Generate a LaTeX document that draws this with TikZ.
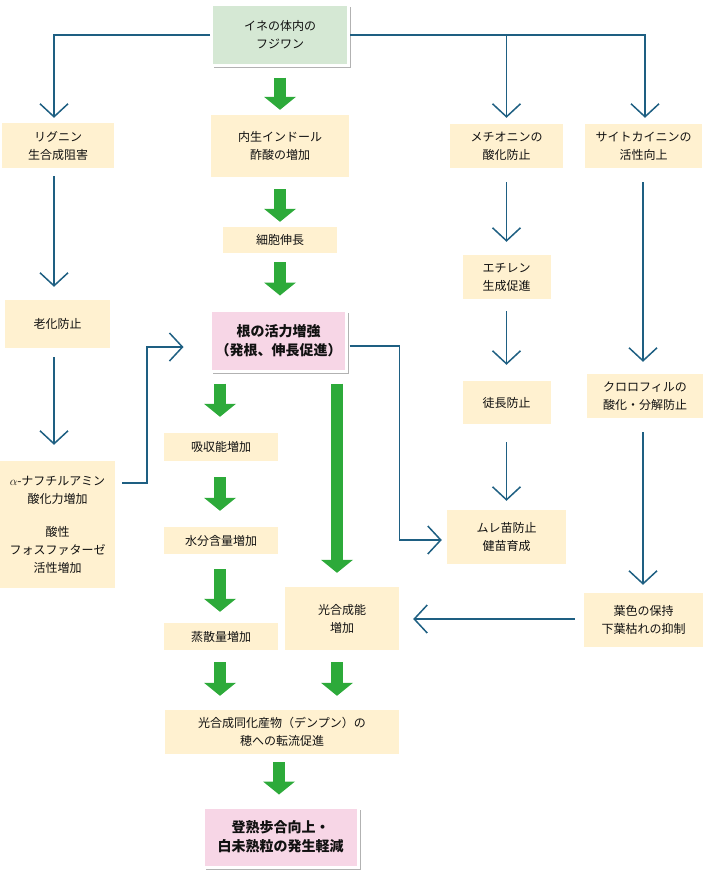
\documentclass[tikz,border=0pt]{standalone}
\usepackage{fontspec}
\setmainfont{Noto Sans CJK JP}
\usetikzlibrary{arrows.meta,shadows,calc}
\definecolor{cream}{HTML}{FFF1D0}
\definecolor{mint}{HTML}{D5E8D4}
\definecolor{rose}{HTML}{F7D6E6}
\definecolor{navy}{HTML}{1E5F82}
\definecolor{leafg}{HTML}{2DAA3A}
\definecolor{ink}{HTML}{111111}
\begin{document}
\begin{tikzpicture}[x=1pt,y=-1pt,
 box/.style={fill=cream, inner sep=0pt, align=center, text=ink, font=\fontsize{12}{18}\selectfont},
 sbox/.style={draw=white, line width=3pt, inner sep=0pt, align=center, text=ink,
   drop shadow={shadow xshift=2.5pt, shadow yshift=-2.5pt, opacity=0.3, fill=black}},
 bline/.style={draw=navy, line width=1.5pt},
 barrow/.style={bline, -{Straight Barb[length=13pt,width=28pt]}},
 garrow/.style={draw=leafg, line width=12.5pt, -{Triangle[length=13pt,width=32pt,line width=0pt]}},
]
\useasboundingbox (0,0) rectangle (703,876);

% nodes
\node[sbox, fill=mint, minimum width=137pt, minimum height=61pt, font=\fontsize{12}{18}\selectfont] (fuji) at (280,35) {イネの体内の\\フジワン};
\node[box, minimum width=112pt, minimum height=45pt] (lignin) at (58,145.5) {リグニン\\生合成阻害};
\node[box, minimum width=138pt, minimum height=62pt] (indole) at (280,146) {内生インドール\\酢酸の増加};
\node[box, minimum width=113pt, minimum height=44pt] (methionine) at (506.5,146) {メチオニンの\\酸化防止};
\node[box, minimum width=117pt, minimum height=44pt] (cytokinin) at (643.5,146) {サイトカイニンの\\活性向上};
\node[box, minimum width=114pt, minimum height=26pt] (cell) at (280,240) {細胞伸長};
\node[box, minimum width=105pt, minimum height=48pt] (aging) at (57.5,324) {老化防止};
\node[sbox, fill=rose, minimum width=136pt, minimum height=61pt, font=\bfseries\fontsize{14}{19}\selectfont] (root) at (278.5,341) {根の活力増強\\（発根、伸長促進）};
\node[box, minimum width=115pt, minimum height=127pt] (alpha) at (57.5,524.5) {$\alpha$-ナフチルアミン\\酸化力増加\\[15pt]酸性\\フォスファターゼ\\活性増加};
\node[box, minimum width=88pt, minimum height=44pt] (ethylene) at (506.5,277) {エチレン\\生成促進};
\node[box, minimum width=88pt, minimum height=43pt] (toucho) at (506.5,402.5) {徒長防止};
\node[box, minimum width=119pt, minimum height=54pt] (mure) at (506.5,537) {ムレ苗防止\\健苗育成};
\node[box, minimum width=116pt, minimum height=44pt] (chloro) at (645,396) {クロロフィルの\\酸化・分解防止};
\node[box, minimum width=119pt, minimum height=54pt] (leaf) at (643.5,620) {葉色の保持\\下葉枯れの抑制};
\node[box, minimum width=114pt, minimum height=63pt] (photo) at (342,618.5) {光合成能\\増加};
\node[box, minimum width=114pt, minimum height=28pt] (absorb) at (221,447) {吸収能増加};
\node[box, minimum width=114pt, minimum height=27pt] (water) at (221,540.5) {水分含量増加};
\node[box, minimum width=114pt, minimum height=27pt] (transp) at (221,636.5) {蒸散量増加};
\node[box, minimum width=234pt, minimum height=44pt] (starch) at (282,732) {光合成同化産物（デンプン）の\\穂への転流促進};
\node[sbox, fill=rose, minimum width=155pt, minimum height=60pt, font=\bfseries\fontsize{14}{19}\selectfont] (ripen) at (280.5,837) {登熟歩合向上・\\白未熟粒の発生軽減};

% blue connectors
\draw[barrow] (fuji.west) -| ($(lignin.north)+(-4,-5)$);
\draw[barrow] (fuji.east) -| ($(cytokinin.north)+(1.5,-6)$);
\draw[barrow] (fuji.east -| methionine.north) -- ($(methionine.north)+(0,-6)$);
\draw[barrow] ($(lignin.south)+(-4,8)$) -- ($(aging.north)+(-3.5,-13)$);
\draw[barrow] ($(aging.south)+(-3.5,9)$) -- ($(alpha.north)+(-3.5,-16)$);
\draw[barrow] ($(alpha.east)+(7,-41.5)$) -- ++(25,0) |- ($(root.west)+(-25.5,6)$);
\draw[barrow] ($(methionine.south)+(0,14)$) -- ($(ethylene.north)+(0,-13)$);
\draw[barrow] ($(ethylene.south)+(0,12)$) -- ($(toucho.north)+(0,-16)$);
\draw[barrow] ($(toucho.south)+(0,18)$) -- ($(mure.north)+(0,-9)$);
\draw[barrow] ($(root.east)+(1.5,5)$) -- ++(50,0) |- ($(mure.west)+(-5,3)$);
\draw[barrow] ($(cytokinin.south)+(-0.5,14)$) -- ($(chloro.north)+(-2,-12)$);
\draw[barrow] ($(chloro.south)+(-2,14)$) -- ($(leaf.north)+(-0.5,-8)$);
\draw[barrow] ($(leaf.west)+(-9,-1)$) -- ($(photo.east |- leaf.west)+(14,-1)$);

% green arrows
\draw[garrow] ($(fuji.south)+(0,10.5)$) -- ($(indole.north)+(0,-5)$);
\draw[garrow] ($(indole.south)+(0,12)$) -- ($(cell.north)+(0,-5)$);
\draw[garrow] ($(cell.south)+(0,9)$) -- ($(root.north)+(1.5,-13.5)$);
\draw[garrow] ($(absorb.north |- root.south)+(-1,10.5)$) -- ($(absorb.north)+(-1,-16)$);
\draw[garrow] ($(absorb.south)+(-1,16)$) -- ($(water.north)+(-1,-16)$);
\draw[garrow] ($(water.south)+(-1,15)$) -- ($(transp.north)+(-1,-11)$);
\draw[garrow] ($(photo.north |- root.south)+(-5,10.5)$) -- ($(photo.north)+(-5,-14)$);
\draw[garrow] ($(transp.south)+(-1,12)$) -- ($(transp.south |- starch.north)+(-1,-14)$);
\draw[garrow] ($(photo.south)+(-5,12)$) -- ($(photo.south |- starch.north)+(-5,-14)$);
\draw[garrow] ($(starch.south)+(-3,8)$) -- ($(starch.south |- ripen.north)+(-3,-11)$);
\end{tikzpicture}
\end{document}
